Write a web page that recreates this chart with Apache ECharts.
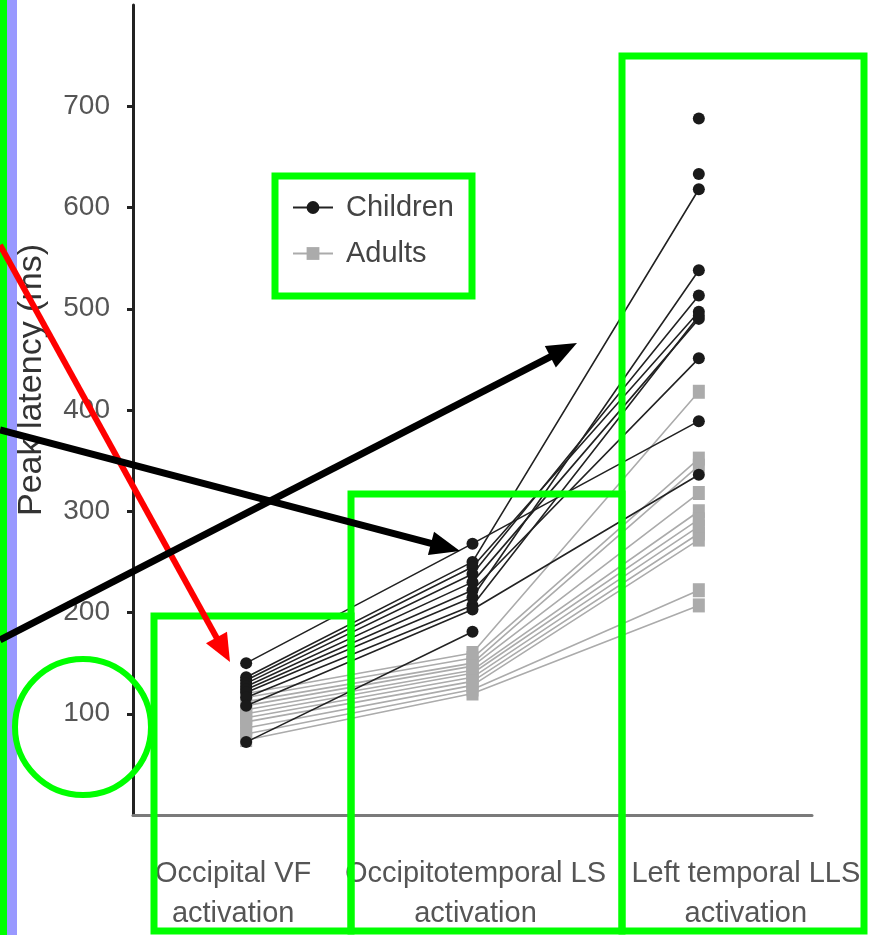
<!DOCTYPE html>
<html><head><meta charset="utf-8">
<script src="https://cdn.jsdelivr.net/npm/echarts@6/dist/echarts.min.js"></script>
<style>html,body{margin:0;padding:0;background:#fff}#c{width:872px;height:935px}</style>
</head><body><div id="c"></div>
<script>
// ---- data ----
const categories = ['Occipital VF\nactivation', 'Occipitotemporal LS\nactivation', 'Left temporal LLS\nactivation'];
const yTicks = [100, 200, 300, 400, 500, 600, 700];

const childrenVF  = [150, 136, 133, 130, 127, 124, 121, 116, 108, 72, null, null];
const childrenOT  = [268, 250, 245, 238, 230, 222, 215, 207, 203, 181, null, null];
const childrenLLS = [389, 618, 497, 513, 490, 451, 538, 493, 336, null, 688, 633];

const adultsVF  = [120, 116, 112, 108, 104, 100, 96, 92, 86, 80, 74];
const adultsOT  = [160, 155, 150, 147, 143, 140, 136, 132, 128, 124, 120];
const adultsLLS = [418, 352, 345, 318, 300, 292, 285, 278, 272, 222, 207];

// ---- chart ----
const FONT = "'Liberation Sans', Arial, sans-serif";
const chart = echarts.init(document.getElementById('c'), null, { renderer: 'canvas' });

const series = [];
for (let i = 0; i < adultsVF.length; i++) {
  series.push({
    name: 'Adults', type: 'line', z: 2,
    data: [adultsVF[i], adultsOT[i], adultsLLS[i]],
    symbol: 'rect', symbolSize: [12, 14], showAllSymbol: true,
    lineStyle: { color: '#ababab', width: 1.6 },
    itemStyle: { color: '#ababab' },
    emphasis: { disabled: true }
  });
}
for (let i = 0; i < childrenVF.length; i++) {
  series.push({
    name: 'Children', type: 'line', z: 3,
    data: [childrenVF[i], childrenOT[i], childrenLLS[i]],
    symbol: 'circle', symbolSize: 12, showAllSymbol: true,
    lineStyle: { color: '#222', width: 1.6 },
    itemStyle: { color: '#1a1a1a' },
    emphasis: { disabled: true }
  });
}

// per-category label offsets (padding shifts the centred label sideways)
const labelPads = [[0, 26, 0, 0], [0, 0, 0, 6], [0, 0, 0, 94]];
const xData = categories.map((c, i) => ({ value: c, textStyle: { padding: labelPads[i] } }));

function arrow(x1, y1, x2, y2, color, w, hl, hw) {
  const dx = x2 - x1, dy = y2 - y1, L = Math.hypot(dx, dy);
  const ux = dx / L, uy = dy / L, px = -uy, py = ux;
  const bx = x2 - ux * hl, by = y2 - uy * hl;
  return [
    { type: 'line', z: 100, shape: { x1: x1, y1: y1, x2: bx + ux * 2, y2: by + uy * 2 }, style: { stroke: color, lineWidth: w } },
    { type: 'polygon', z: 101, shape: { points: [[x2, y2], [bx + px * hw, by + py * hw], [bx - px * hw, by - py * hw]] }, style: { fill: color } }
  ];
}
const G = '#00ff00';
const graphic = [
  { type: 'rect', z: 100, shape: { x: 0, y: 0, width: 7, height: 935 }, style: { fill: G } },
  { type: 'rect', z: 100, shape: { x: 7, y: 0, width: 10, height: 935 }, style: { fill: '#9999ff' } },
  { type: 'rect', z: 100, shape: { x: 275, y: 176, width: 197, height: 120 }, style: { fill: 'none', stroke: G, lineWidth: 7 } },
  { type: 'rect', z: 100, shape: { x: 154, y: 616, width: 197, height: 315 }, style: { fill: 'none', stroke: G, lineWidth: 7 } },
  { type: 'rect', z: 100, shape: { x: 351, y: 494, width: 271, height: 437 }, style: { fill: 'none', stroke: G, lineWidth: 7 } },
  { type: 'rect', z: 100, shape: { x: 622, y: 56, width: 242, height: 875 }, style: { fill: 'none', stroke: G, lineWidth: 7 } },
  { type: 'circle', z: 100, shape: { cx: 83, cy: 727, r: 68 }, style: { fill: 'none', stroke: G, lineWidth: 6 } }
].concat(
  arrow(0, 245, 230, 662, '#ff0000', 6, 28, 12),
  arrow(0, 430, 460, 551, '#000000', 7, 30, 12),
  arrow(0, 640, 577, 343, '#000000', 7, 30, 12)
);

chart.setOption({
  animation: false,
  backgroundColor: '#fff',
  grid: { left: 133, top: 5, width: 679, height: 810, containLabel: false },
  legend: {
    data: ['Children', 'Adults'], orient: 'vertical', left: 292, top: 193, padding: 0,
    itemWidth: 40, itemHeight: 16, itemGap: 17, selectedMode: false,
    textStyle: { fontSize: 29, color: '#444', fontFamily: FONT, padding: [0, 0, 0, 8] }
  },
  xAxis: {
    type: 'category', data: xData, boundaryGap: true,
    axisLine: { lineStyle: { color: '#7a7a7a', width: 3 } },
    axisTick: { alignWithLabel: true, length: 15, lineStyle: { color: '#222', width: 2 } },
    axisLabel: { fontSize: 29, color: '#555', fontFamily: FONT, margin: 39, lineHeight: 40, interval: 0 }
  },
  yAxis: {
    type: 'value', min: 0, max: 800, interval: 100,
    name: 'Peak latency (ms)', nameLocation: 'middle', nameRotate: 90, nameGap: 84,
    nameTextStyle: { fontSize: 34, color: '#333', fontFamily: FONT, padding: [0, 0, 0, 60] },
    axisLine: { show: true, lineStyle: { color: '#222', width: 3 } },
    axisTick: { show: true, length: 6, customValues: yTicks, lineStyle: { color: '#222', width: 3 } },
    axisLabel: { fontSize: 28, color: '#555', fontFamily: FONT, margin: 23, customValues: yTicks },
    splitLine: { show: false }
  },
  series: series,
  graphic: graphic
});
</script>
</body></html>
